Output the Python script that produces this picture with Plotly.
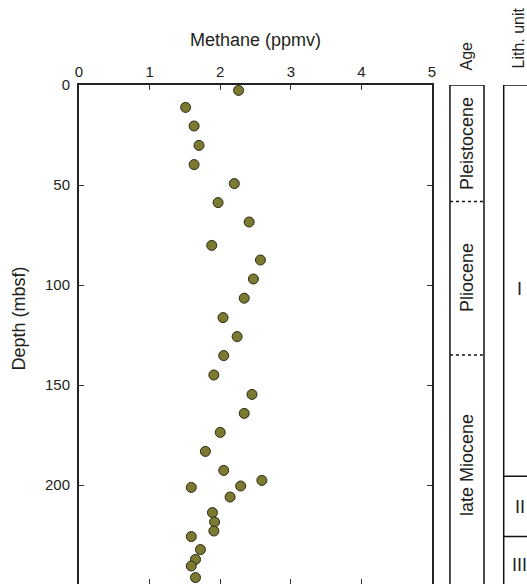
import plotly.graph_objects as go

# Data
methane = [2.26, 1.51, 1.63, 1.70, 1.63, 2.20, 1.97, 2.41, 1.88, 2.57, 2.47, 2.34,
           2.04, 2.24, 2.05, 1.91, 2.45, 2.34, 2.00, 1.79, 2.05, 2.59, 1.59, 2.29,
           2.14, 1.89, 1.92, 1.91, 1.59, 1.72, 1.65, 1.59, 1.65, 1.51]
depth = [2.7, 11.2, 20.5, 30.2, 39.8, 49.3, 58.8, 68.5, 80.2, 87.5, 97.0, 106.6,
         116.3, 125.8, 135.3, 145.0, 154.7, 164.2, 173.7, 183.2, 192.7, 197.7, 201.2, 200.5,
         206.0, 213.8, 218.5, 223.0, 225.8, 232.3, 237.2, 240.5, 246.3, 249.7]

x_ticks = [0, 1, 2, 3, 4, 5]
y_ticks = [0, 50, 100, 150, 200]

age_names = ["Pleistocene", "Pliocene", "late Miocene"]
age_label_depth = [29, 96, 190]
age_boundaries = [58.3, 135.0]

lith_names = ["I", "II", "III"]
lith_label_depth = [102, 211, 240]
lith_boundaries = [195.6, 225.7]

FONT = "Liberation Sans, Arial, sans-serif"
TXT = "#231f20"

fig = go.Figure()
fig.add_trace(go.Scatter(
    x=methane, y=depth, mode="markers",
    marker=dict(size=10, color="#7b7a30", line=dict(color="#2a2a18", width=1)),
    showlegend=False, cliponaxis=False, hoverinfo="skip"))

# bottom ticks only (no line)
fig.add_trace(go.Scatter(x=[None], y=[None], xaxis="x2", showlegend=False))

y_max = 249.5
fig.update_layout(
    width=527, height=584,
    margin=dict(l=79, r=0, t=85, b=0, autoexpand=False),
    plot_bgcolor="white", paper_bgcolor="white",
    font=dict(family=FONT, color=TXT, size=16),
    xaxis=dict(domain=[0, 0.788], range=[0, 5], side="top", tickvals=x_ticks,
               ticks="inside", ticklen=5, tickwidth=1, tickcolor="#333",
               showline=True, linecolor="#222", linewidth=2, mirror=False,
               showgrid=False, zeroline=False, tickfont=dict(size=15)),
    xaxis2=dict(domain=[0, 0.788], range=[0, 5], overlaying="x", side="bottom",
                tickvals=x_ticks, ticks="inside", ticklen=5, tickwidth=1,
                tickcolor="#333", showline=False, showticklabels=False,
                showgrid=False, zeroline=False, anchor="y"),
    yaxis=dict(range=[y_max, 0], tickvals=y_ticks, ticks="inside", ticklen=5,
               tickwidth=1, tickcolor="#333", showline=True, linecolor="#222",
               linewidth=2, mirror="ticks", showgrid=False, zeroline=False,
               tickfont=dict(size=15), ticklabelstandoff=4),
)

# Age column
ax0, ax1 = 0.828, 0.904
line_style = dict(color="#111", width=1.5)
fig.add_shape(type="line", xref="paper", yref="y", x0=ax0, x1=ax0, y0=0, y1=y_max, line=line_style)
fig.add_shape(type="line", xref="paper", yref="y", x0=ax1, x1=ax1, y0=0, y1=y_max, line=line_style)
fig.add_shape(type="line", xref="paper", yref="y", x0=ax0, x1=ax1, y0=0, y1=0, line=line_style)
for b in age_boundaries:
    fig.add_shape(type="line", xref="paper", yref="y", x0=ax0, x1=ax1, y0=b, y1=b,
                  line=dict(color="#111", width=1.5, dash="dot"))
for name, d in zip(age_names, age_label_depth):
    fig.add_annotation(x=(ax0 + ax1) / 2, xref="paper", xanchor="center", y=d, yref="y",
                       yanchor="middle", text=name, textangle=-90, showarrow=False,
                       font=dict(size=18))

# Lith unit column
lx0, lx1 = 0.948, 1.2
fig.add_shape(type="line", xref="paper", yref="y", x0=lx0, x1=lx0, y0=0, y1=y_max, line=line_style)
fig.add_shape(type="line", xref="paper", yref="y", x0=lx0, x1=lx1, y0=0, y1=0, line=line_style)
for b in lith_boundaries:
    fig.add_shape(type="line", xref="paper", yref="y", x0=lx0, x1=lx1, y0=b, y1=b, line=line_style)
for name, d in zip(lith_names, lith_label_depth):
    fig.add_annotation(x=0.984, xref="paper", xanchor="center", y=d, yref="y",
                       yanchor="middle", text=name, showarrow=False, font=dict(size=18))

# Headers and titles
fig.add_annotation(x=0.866, xref="paper", xanchor="center", y=1.026, yref="paper",
                   yanchor="bottom", text="Age", textangle=-90, showarrow=False,
                   font=dict(size=16))
fig.add_annotation(x=0.982, xref="paper", xanchor="center", y=1.030, yref="paper",
                   yanchor="bottom", text="Lith. unit", textangle=-90, showarrow=False,
                   font=dict(size=16))
fig.add_annotation(x=0.394, xref="paper", xanchor="center", y=1.090, yref="paper",
                   yanchor="middle", text="Methane (ppmv)", showarrow=False,
                   font=dict(size=18))
fig.add_annotation(x=-0.133, xref="paper", xanchor="center", y=116.5, yref="y",
                   yanchor="middle", text="Depth (mbsf)", textangle=-90, showarrow=False,
                   font=dict(size=18))

fig.write_html("out.html")
